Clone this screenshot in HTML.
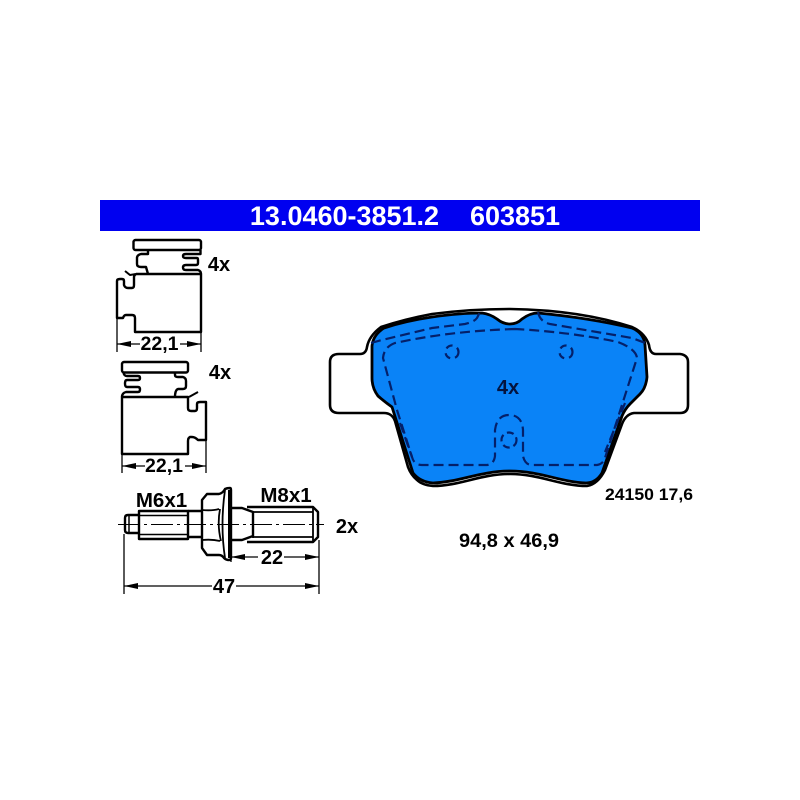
<!DOCTYPE html>
<html><head><meta charset="utf-8"><style>
html,body{margin:0;padding:0;background:#fff}
svg{display:block}
text{font-family:"Liberation Sans",sans-serif;font-weight:bold;fill:#000}
</style></head><body>
<svg width="800" height="800" viewBox="0 0 800 800" xmlns="http://www.w3.org/2000/svg">
<defs>
<marker id="a" markerWidth="14" markerHeight="6" refX="14" refY="3" orient="auto-start-reverse" markerUnits="userSpaceOnUse"><path d="M0 0L14 3L0 6Z" fill="#000"/></marker>
</defs>
<rect x="100" y="200" width="600" height="31" fill="#0000f0"/>
<text x="344.500" y="225" font-size="27" text-anchor="middle" style="fill:#fff">13.0460-3851.2</text>
<text x="515" y="225" font-size="27" text-anchor="middle" style="fill:#fff">603851</text>

<!-- clip 1 -->
<g fill="none" stroke="#000" stroke-width="2.400" stroke-linejoin="round">
<rect x="133.500" y="240" width="67.500" height="10" rx="2"/>
<path d="M148 250V254H141Q137 255 137 258V264Q137 267 141 267H146L148 274"/>
<path d="M200.500 250V254H186Q183 254 183 256Q183 258 186 258H197Q198 258 198 260V263Q198 265 196 265H186Q183 265 183 267.500Q183 270 186 270H198Q201 271 201 274"/>
<path d="M136 274H201V332H135V318Q135 315 132 315H126Q124 315 123 318H117V281Q117 279 120 279H122Q124 279 124 281V285Q125 288 128 288H132Q134 288 134 285V277Q134 275 136 274"/>
<path d="M125 271L130 275L136 274" stroke-width="2"/>
</g>
<g stroke="#000" stroke-width="1.300">
<line x1="117" y1="318" x2="117" y2="352"/>
<line x1="201" y1="332" x2="201" y2="352"/>
<line x1="117" y1="344" x2="140" y2="344" marker-start="url(#a)"/>
<line x1="180" y1="344" x2="201" y2="344" marker-end="url(#a)"/>
</g>
<text x="159.500" y="350" font-size="19.500" text-anchor="middle">22,1</text>
<text x="219" y="271" font-size="20" text-anchor="middle">4x</text>

<!-- clip 2 -->
<g fill="none" stroke="#000" stroke-width="2.400" stroke-linejoin="round">
<rect x="122" y="362" width="66" height="10.500" rx="2"/>
<path d="M175 372.500V375Q175 377 178 377H183Q186 378 186 381V386Q186 389 183 389H178Q175 390 175 397"/>
<path d="M123.500 372.500Q124 376 127 376H138Q140 376 140 378Q140 380 138 380H127Q125 380 125 383.500Q125 387 127 387H138Q140 387 140 389.500Q140 392 138 392H126Q122 393 122 397"/>
<path d="M122 397H188V408Q188 411 191 411H195Q197 411 197 408V404Q197 402 200 402H206V440H198Q195 437 192 437H190Q188 438 188 441V454H122Z"/>
<path d="M189 397L198 392" stroke-width="2"/>
</g>
<g stroke="#000" stroke-width="1.300">
<line x1="122" y1="454" x2="122" y2="473"/>
<line x1="206" y1="440" x2="206" y2="473"/>
<line x1="122" y1="466" x2="145" y2="466" marker-start="url(#a)"/>
<line x1="185" y1="466" x2="206" y2="466" marker-end="url(#a)"/>
</g>
<text x="164" y="472" font-size="19.500" text-anchor="middle">22,1</text>
<text x="220" y="379" font-size="20" text-anchor="middle">4x</text>

<!-- stud -->
<g fill="none" stroke="#000" stroke-width="2.400" stroke-linejoin="round">
<path d="M139 515H128Q125 515 125 518V530Q125 533 128 533H139"/>
<path d="M129 516V532" stroke-width="1.500"/>
<rect x="139" y="511" width="49" height="28"/>
<path d="M139 515.500H188M139 534.500H188" stroke-width="1.500"/>
<path d="M188 511H202M188 537H202"/>
<path d="M207 494H219Q223 493 225 489Q227 488 230 488Q231 488 231 490V558Q231 560 229 560Q226 560 224 558Q222 555 219 555H207L202 548V500Z"/>
<path d="M202 510Q212 511 219 509M202 540Q212 539 220 541M220 509Q217 525 221 541M225 490Q220 525 225 558" stroke-width="1.800"/>
<line x1="229.500" y1="490" x2="229.500" y2="558" stroke-width="3"/>
<path d="M231 508H242L253 512V536L242 540H231"/>
<path d="M247 507H313L318 512V537L313 542H247"/>
<path d="M253 512V538M253 512H313M253 537H313M313 507V542" stroke-width="1.800"/>
</g>
<g stroke="#000" stroke-width="1.300">
<line x1="124" y1="534" x2="124" y2="594"/>
<line x1="319" y1="540" x2="319" y2="594"/>
<line x1="231" y1="545" x2="231" y2="562"/>
<line x1="231" y1="557" x2="258" y2="557" marker-start="url(#a)"/>
<line x1="284" y1="557" x2="319" y2="557" marker-end="url(#a)"/>
<line x1="124" y1="586" x2="212" y2="586" marker-start="url(#a)"/>
<line x1="236" y1="586" x2="319" y2="586" marker-end="url(#a)"/>
</g>
<line x1="118" y1="524.500" x2="324" y2="524.500" stroke="#000" stroke-width="1" stroke-dasharray="22 4 3 4"/>
<text x="272" y="564" font-size="20" text-anchor="middle">22</text>
<text x="224" y="593" font-size="20" text-anchor="middle">47</text>
<text x="161.500" y="507" font-size="20.500" text-anchor="middle">M6x1</text>
<text x="286" y="502" font-size="20.500" text-anchor="middle">M8x1</text>
<text x="347" y="533" font-size="20" text-anchor="middle">2x</text>

<!-- pad backplate -->
<path d="M367 347Q369 336 381 327Q405 319 432 314Q470 309 510 309Q580 310 632 327Q645 333 649 345Q650 354 656 354H680Q688 355 688 362V405Q688 413 680 413H634Q626 414 622 424L605 470Q598 484 587 486C560 486 540 474 510 474C480 474 460 486 433 486Q422 485 417 480Q411 475 408 467L395 421Q392 413 384 413H339Q330 413 330 405V362Q330 354 339 354H360Q366 354 367 347Z" fill="#fff" stroke="#000" stroke-width="2.600" stroke-linejoin="round"/>
<!-- friction pad -->
<path d="M372 346Q373 335 384 328Q405 321 432 317Q460 313 482 313Q490 314 497 319Q503 324 510 324Q517 324 522 319Q530 313 538 313Q590 318 632 328Q644 333 645 345L647 377Q646 388 640 394L630 404Q625 409 622 416L602 473Q596 483 586 483C560 482 540 471 510 471C480 471 460 482 433 483Q420 482 413 473L392 407Q385 402 378 396Q372 388 372 378Z" fill="#0a83f7" stroke="#000" stroke-width="2.800" stroke-linejoin="round"/>
<!-- dashed lines -->
<g fill="none" stroke="#04206a" stroke-width="2.200" stroke-dasharray="10 5" stroke-linejoin="round">
<path d="M371 343L382 340L432 328L465 324Q474 322 477 318L480 312"/>
<path d="M538 312Q540 322 550 324L632 338L648 344"/>
<path d="M515 329Q450 331 395 343Q384 347 383 358L397 410L412 457Q414 465 422 465H487Q494 464 495 456V430Q497 415 509 415Q522 415 523 430V456Q525 465 532 465H597Q603 464 605 458L637 358Q636 349 618 342Q570 332 515 329Z"/>
<path d="M400 423L412 457M625 403L605 452"/>
</g>
<g fill="none" stroke="#04206a" stroke-width="2.200" stroke-dasharray="7 4">
<circle cx="509" cy="440" r="7.500"/>
</g>
<g fill="none" stroke="#04206a" stroke-width="2.200" stroke-dasharray="7 5">
<circle cx="452" cy="352" r="6.500"/>
<circle cx="566" cy="352" r="6.500"/>
</g>
<text x="508" y="394" font-size="20" text-anchor="middle" style="fill:#04143f">4x</text>
<text x="649" y="500" font-size="16.500" text-anchor="middle" textLength="88" lengthAdjust="spacingAndGlyphs">24150 17,6</text>
<text x="509" y="547" font-size="19.500" text-anchor="middle" textLength="100" lengthAdjust="spacingAndGlyphs">94,8 x 46,9</text>
</svg>
</body></html>
